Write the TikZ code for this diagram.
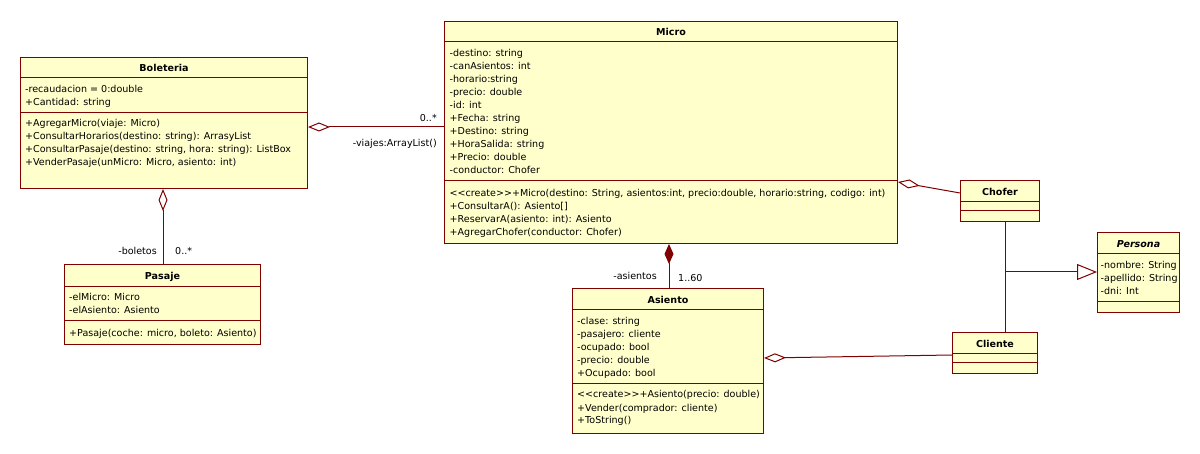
\documentclass[tikz,border=0pt]{standalone}
\usepackage{fontspec}
\setmainfont{DejaVu Sans}
\usetikzlibrary{arrows.meta}
\definecolor{umlfill}{HTML}{FFFFCC}
\definecolor{umlline}{HTML}{800000}
\newcommand{\umlsize}{\fontsize{9.55}{11}\selectfont}
\tikzset{
  cls/.style={draw=umlline, fill=umlfill, line width=1pt, inner sep=0pt, anchor=north west},
  sep/.style={draw=umlline, line width=1pt},
  txt/.style={anchor=base west, inner sep=0pt, font=\umlsize, text=black},
  ttl/.style={anchor=base, inner sep=0pt, font=\umlsize\bfseries, text=black},
  lblr/.style={anchor=base east, inner sep=0pt, font=\umlsize, text=black},
  conn/.style={draw=umlline, line width=1pt},
  agg/.style={conn, {Diamond[open, length=22pt, width=9pt]}-},
  comp/.style={conn, {Diamond[umlline, length=20pt, width=9pt]}-},
  gen/.style={conn, -{Triangle[open, length=20pt, width=16pt]}},
}
\begin{document}
\begin{tikzpicture}[x=1pt, y=-1pt]
\useasboundingbox (0,0) rectangle (1200,454);
\fill[white] (0,0) rectangle (1200,454);

% Boleteria
\node[cls, minimum width=287pt, minimum height=131pt] (bol) at (20,57) {};
\draw[sep] (bol.west |- 0,78) -- (bol.east |- 0,78);
\draw[sep] (bol.west |- 0,113) -- (bol.east |- 0,113);
\node[ttl] (bolt) at (bol.north |- 0,72) {Boleteria};
\foreach \t [count=\i] in {{-recaudacion = 0:double},{+Cantidad: string}}
  \node[txt] (bola\i) at (25,{79.5+13*\i}) {\t};
\foreach \t [count=\i] in {{+AgregarMicro(viaje: Micro)},{+ConsultarHorarios(destino: string): ArrasyList},{+ConsultarPasaje(destino: string, hora: string): ListBox},{+VenderPasaje(unMicro: Micro, asiento: int)}}
  \node[txt] (bolm\i) at (25,{113.5+13*\i}) {\t};

% Micro
\node[cls, minimum width=453pt, minimum height=222pt] (mic) at (444,21) {};
\draw[sep] (mic.west |- 0,42) -- (mic.east |- 0,42);
\draw[sep] (mic.west |- 0,181) -- (mic.east |- 0,181);
\node[ttl] (mict) at (mic.north |- 0,36) {Micro};
\foreach \t [count=\i] in {{-destino: string},{-canAsientos: int},{-horario:string},{-precio: double},{-id: int},{+Fecha: string},{+Destino: string},{+HoraSalida: string},{+Precio: double},{-conductor: Chofer}}
  \node[txt] (mica\i) at (449.5,{43.5+13*\i}) {\t};
\foreach \t [count=\i] in {{<\kern0pt<create>\kern0pt>+Micro(destino: String, asientos:int, precio:double, horario:string, codigo: int)},{+ConsultarA(): Asiento[]},{+ReservarA(asiento: int): Asiento},{+AgregarChofer(conductor: Chofer)}}
  \node[txt] (micm\i) at (449.5,{183.5+13*\i}) {\t};

% Pasaje
\node[cls, minimum width=196pt, minimum height=80pt] (pas) at (64,264) {};
\draw[sep] (pas.west |- 0,287) -- (pas.east |- 0,287);
\draw[sep] (pas.west |- 0,321) -- (pas.east |- 0,321);
\node[ttl] (past) at (pas.north |- 0,280) {Pasaje};
\foreach \t [count=\i] in {{-elMicro: Micro},{-elAsiento: Asiento}}
  \node[txt] (pasa\i) at (69,{288+13*\i}) {\t};
\node[txt] (pasm1) at (69,336.5) {+Pasaje(coche: micro, boleto: Asiento)};

% Asiento
\node[cls, minimum width=191pt, minimum height=145pt] (asi) at (572,288) {};
\draw[sep] (asi.west |- 0,310) -- (asi.east |- 0,310);
\draw[sep] (asi.west |- 0,384) -- (asi.east |- 0,384);
\node[ttl] (asit) at (asi.north |- 0,303.5) {Asiento};
\foreach \t [count=\i] in {{-clase: string},{-pasajero: cliente},{-ocupado: bool},{-precio: double},{+Ocupado: bool}}
  \node[txt] (asia\i) at (577,{311.5+13*\i}) {\t};
\foreach \t [count=\i] in {{<\kern0pt<create>\kern0pt>+Asiento(precio: double)},{+Vender(comprador: cliente)},{+ToString()}}
  \node[txt] (asim\i) at (577,{385+13*\i}) {\t};

% Chofer
\node[cls, minimum width=79pt, minimum height=41pt] (cho) at (960,180) {};
\draw[sep] (cho.west |- 0,202) -- (cho.east |- 0,202);
\draw[sep] (cho.west |- 0,211) -- (cho.east |- 0,211);
\node[ttl] (chot) at (cho.north |- 0,195.5) {Chofer};

% Cliente
\node[cls, minimum width=85pt, minimum height=41pt] (cli) at (952,332) {};
\draw[sep] (cli.west |- 0,354) -- (cli.east |- 0,354);
\draw[sep] (cli.west |- 0,363) -- (cli.east |- 0,363);
\node[ttl] (clit) at (cli.north |- 0,347.5) {Cliente};

% Persona
\node[cls, minimum width=82pt, minimum height=80pt] (per) at (1097,232) {};
\draw[sep] (per.west |- 0,254) -- (per.east |- 0,254);
\draw[sep] (per.west |- 0,302) -- (per.east |- 0,302);
\node[ttl, font=\umlsize\bfseries\itshape] (pert) at (per.north |- 0,247.5) {Persona};
\foreach \t [count=\i] in {{-nombre: String},{-apellido: String},{-dni: Int}}
  \node[txt] (pera\i) at (1100.5,{256+13*\i}) {\t};

% Connectors
\draw[agg] (bol.east |- 0,127) -- (mic.west |- 0,127);
\node[lblr] (l1) at (437,122) {0..*};
\node[lblr] (l2) at (437,146.5) {-viajes:ArrayList()};

\draw[agg] (bol.south -| 163,0) -- (pas.north -| 163,0);
\node[lblr] (l3) at (157,254.5) {-boletos};
\node[txt] (l4) at (175,254.5) {0..*};

\draw[comp] (mic.south -| 669,0) -- (asi.north -| 669,0);
\node[lblr] (l5) at (657,279.5) {-asientos};
\node[txt] (l6) at (678,282) {1..60};

\draw[agg] (asi.east |- 0,358) -- (cli.west |- 0,355);
\draw[agg] (mic.east |- 0,182) -- (cho.west |- 0,193);

\draw[conn] (cho.south -| 1005,0) -- (cli.north -| 1005,0);
\coordinate (gj) at (1005,272);
\draw[gen] (gj) -- (per.west |- gj);
\end{tikzpicture}
\end{document}
